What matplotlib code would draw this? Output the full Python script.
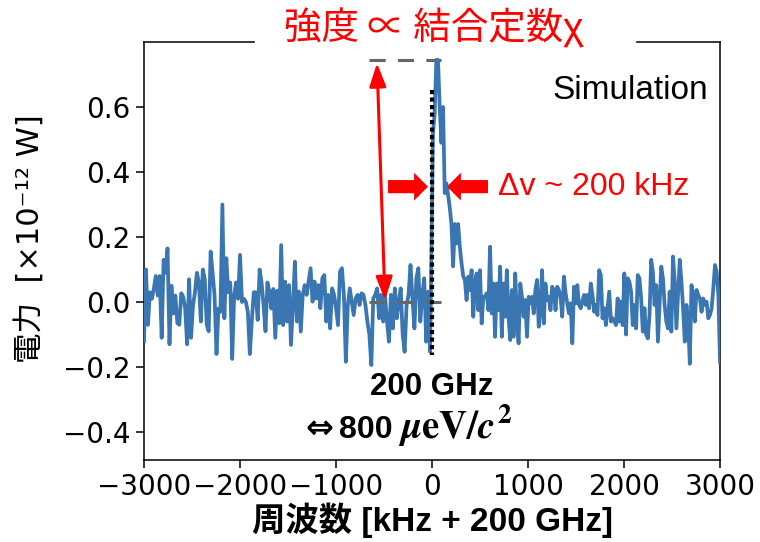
import numpy as np
import matplotlib.pyplot as plt
from matplotlib.patches import Rectangle

plt.rcParams['font.family'] = ['DejaVu Sans', 'Noto Sans CJK JP']
plt.rcParams['mathtext.fontset'] = 'custom'
plt.rcParams['mathtext.rm'] = 'STIXGeneral:bold'
plt.rcParams['mathtext.bf'] = 'STIXGeneral:bold'
plt.rcParams['mathtext.it'] = 'STIXGeneral:italic:bold'

# power readings [x1e-12 W]
power_far_left = [-0.12, 0.10, -0.07, 0.03, 0.01, 0.04, 0.08, 0.02, 0.08, -0.11,
                  0.13, 0.09, 0.165, -0.13, 0.05, -0.035, 0.02, -0.065, -0.07, 0.027,
                  0.016, -0.02, -0.13, 0.07, -0.11, -0.01, 0.03, 0.09, 0.06, -0.06,
                  0.10, 0.07, -0.07, -0.09, 0.155, 0.09, 0.02, -0.16, -0.02, -0.03,
                  0.30, -0.05, 0.135, 0.03, 0.06, -0.175, 0.02, 0.06, 0.01, 0.145,
                  0.0, 0.01, 0.0, -0.03, -0.16, -0.06, 0.03, 0.03, -0.055, 0.10,
                  0.06, -0.01, -0.09, 0.06, 0.03, -0.02, 0.04, -0.11, 0.035, -0.065,
                  0.175]
power_near_left = [-0.071, 0.063, -0.06, 0.052, -0.132, -0.009, 0.124, -0.06, 0.032, -0.091,
                   0.022, 0.052, 0.022, 0.063, 0.104, 0.001, 0.063, 0.011, 0.052, -0.019,
                   0.073, 0.083, -0.06, 0.022, -0.081, 0.042, 0.022, -0.019, -0.071, 0.093,
                   0.104, 0.022, -0.184, -0.009, 0.042, 0.001, -0.04, 0.011, 0.022, -0.009,
                   0.027, 0.022, -0.009, -0.06, -0.10, -0.194, 0.011, 0.022, 0.042, -0.05,
                   0.022, -0.06, 0.022, -0.06, -0.122, 0.022, -0.081, 0.042, -0.05, 0.001,
                   0.042, -0.10, -0.153, -0.009, 0.022, 0.114, 0.011, -0.081, 0.073, 0.104,
                   -0.06, 0.022, 0.073, -0.122, 0.032, -0.153]
power_peak = [0.52, 0.58, 0.745, 0.745, 0.60, 0.49, 0.60, 0.335, 0.365, 0.33,
              0.29, 0.24, 0.11, 0.24, 0.18, 0.24, 0.17, 0.12, 0.08, 0.068,
              0.006, 0.078, 0.037, 0.098, -0.045, 0.057, 0.088, -0.025, 0.098, -0.066,
              0.016, 0.016, 0.027, -0.025, 0.17, -0.035, 0.057, -0.107, 0.057, -0.025,
              0.109, -0.107, 0.057, -0.045, 0.098, -0.045, -0.117, 0.037, -0.107, 0.088,
              -0.055, -0.127, 0.057, 0.016, -0.045, 0.006, -0.107, 0.016, -0.004, 0.016,
              -0.035, 0.037, 0.068, -0.076, -0.025, 0.098, -0.066, 0.057, 0.006, 0.016,
              -0.025, 0.047, 0.037, -0.025, 0.047, 0.037, 0.016, -0.045, 0.078, 0.027,
              -0.004, -0.035, -0.004, -0.127, 0.047, -0.004]
power_far_right = [0.052, -0.009, -0.019, 0.001, 0.022, -0.009, 0.022, -0.019, 0.057, 0.022,
                   -0.03, -0.009, -0.04, 0.098, 0.083, -0.05, -0.019, -0.071, -0.019, 0.032,
                   -0.06, -0.05, -0.06, -0.071, 0.011, -0.06, 0.001, -0.071, 0.088, -0.10,
                   0.073, 0.063, 0.032, -0.071, -0.009, -0.081, 0.083, 0.073, 0.011, -0.091,
                   -0.019, -0.10, -0.112, -0.04, 0.13, 0.093, -0.009, 0.052, -0.122, -0.009,
                   0.109, 0.073, -0.009, -0.06, -0.081, 0.032, -0.091, 0.14, 0.063, -0.081,
                   0.022, 0.13, 0.063, -0.019, -0.122, -0.009, -0.06, -0.19, 0.052, 0.022,
                   -0.06, 0.037, 0.022, 0.011, -0.03, 0.011, -0.009, 0.001, -0.05, -0.04,
                   -0.019, 0.042, 0.114, 0.093, 0.022, -0.184]

power_left = power_far_left + power_near_left
power_right = power_peak + power_far_right

# frequency offsets [kHz], evenly spaced on each side of the line
freq_left = np.linspace(-3000, -20, len(power_left))
freq_right = np.linspace(10, 3000, len(power_right))
freq = np.concatenate([freq_left, freq_right])
power = np.array(power_left + power_right)

peak_level = max(power)
base_level = 0.0

sans = ['Liberation Sans', 'DejaVu Sans']

fig = plt.figure(figsize=(7.6, 5.42), dpi=100)
ax = fig.add_axes([0.1895, 0.1513, 0.7579, 0.7712])

ax.plot(freq, power, color='#3a76b2', lw=2.7, zorder=3)

# level markers
ax.plot([-656, 90], [peak_level, peak_level], color='#666666', lw=2.2, ls=(0, (5.3, 4)), zorder=2)
ax.plot([-656, 90], [base_level, base_level], color='#666666', lw=2.2, ls=(0, (5.3, 4)), zorder=4)
ax.plot([0, 0], [0.652, -0.163], color='black', lw=3, ls=(0, (1, 0.8)), zorder=4)

# intensity arrow
ax.annotate('', xy=(-490, base_level + 0.006), xytext=(-573, peak_level - 0.01),
            arrowprops=dict(arrowstyle='<|-|>,head_length=14,head_width=5', mutation_scale=1,
                            color='red', lw=2.2, shrinkA=0, shrinkB=0), zorder=5)

# linewidth arrows
fat = 'simple,head_length=10,head_width=20,tail_width=9.5'
ax.annotate('', xy=(-42, 0.355), xytext=(-458, 0.355),
            arrowprops=dict(arrowstyle=fat, mutation_scale=1, color='red', lw=0,
                            shrinkA=0, shrinkB=0), zorder=5)
ax.annotate('', xy=(156, 0.355), xytext=(583, 0.355),
            arrowprops=dict(arrowstyle=fat, mutation_scale=1, color='red', lw=0,
                            shrinkA=0, shrinkB=0), zorder=5)
ax.text(688, 0.355, 'Δv ~ 200 kHz', color='red', fontsize=23, va='center', ha='left',
        family=sans)

ax.text(0.979, 0.885, 'Simulation', transform=ax.transAxes, ha='right', va='center',
        fontsize=24, family=sans)
ax.text(0.5, 0.174, '200 GHz', transform=ax.transAxes, ha='center', va='center',
        fontsize=22.5, fontweight='bold', family=sans)
ax.text(-1170, -0.388, '⇔', ha='center', va='center', fontsize=24, fontweight='bold',
        family=['DejaVu Sans'])
ax.text(-406, -0.418, '800', ha='right', va='baseline', fontsize=23, fontweight='bold',
        family=sans)
ax.text(-354, -0.418, r'$\mu\mathrm{eV}/c^{2}$', ha='left', va='baseline', fontsize=28)

ax.set_xlim(-3000, 3000)
ax.set_ylim(-0.486, 0.80)
ax.set_xticks(range(-3000, 3001, 1000))
ax.set_yticks([-0.4, -0.2, 0.0, 0.2, 0.4, 0.6])
ax.tick_params(labelsize=20, length=6, width=1.1)
for sp in ax.spines.values():
    sp.set_linewidth(1.1)

ax.set_xlabel('周波数 [kHz + 200 GHz]', fontsize=24, fontweight='bold',
              family=['Liberation Sans', 'Noto Sans CJK JP'], labelpad=1)
ax.set_ylabel('電力  [×10⁻¹² W]', fontsize=22,
              family=['DejaVu Sans', 'Noto Sans CJK JP'])
ax.yaxis.set_label_coords(-0.172, 0.53)

# title sits on top of the frame, with a white strip behind it
fig.add_artist(Rectangle((255 / 760, 1 - 50 / 542), 380 / 760, 14 / 542,
                         transform=fig.transFigure, color='white', zorder=2))
fig.text(0.571, 0.948, '強度 ∝ 結合定数χ', color='red', fontsize=27, ha='center', va='center',
         family=['Noto Sans CJK JP', 'DejaVu Sans'], zorder=3)

fig.savefig('out.png', dpi=100)
